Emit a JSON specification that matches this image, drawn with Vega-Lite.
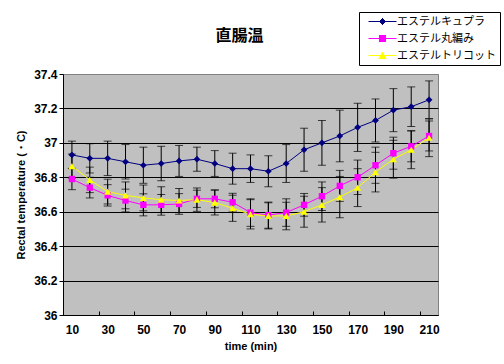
{
  "$schema": "https://vega.github.io/schema/vega-lite/v6.json",
  "width": 375,
  "height": 241,
  "autosize": "none",
  "padding": {"left": 63, "top": 74, "right": 66, "bottom": 49},
  "background": "white",
  "title": {"text": "直腸温", "font": "Noto Sans CJK JP", "fontSize": 16, "fontWeight": "bold", "color": "black", "anchor": "middle", "dx": -11, "offset": -32},
  "config": {
    "view": {"stroke": "#808080", "fill": "#C0C0C0", "strokeWidth": 1},
    "axis": {"labelFont": "Liberation Sans", "labelFontSize": 12, "labelFontWeight": "bold", "labelColor": "black", "titleFont": "Liberation Sans", "titleFontSize": 11, "titleFontWeight": "bold", "titleColor": "black", "domainColor": "black", "tickColor": "black"}
  },
  "data": {"values": [
    {"series": "エステルキュプラ", "t": 10, "mean": 36.93, "lo": 36.85, "hi": 37.01},
    {"series": "エステルキュプラ", "t": 20, "mean": 36.91, "lo": 36.825, "hi": 36.995},
    {"series": "エステルキュプラ", "t": 30, "mean": 36.91, "lo": 36.81, "hi": 37.01},
    {"series": "エステルキュプラ", "t": 40, "mean": 36.89, "lo": 36.79, "hi": 36.99},
    {"series": "エステルキュプラ", "t": 50, "mean": 36.87, "lo": 36.765, "hi": 36.975},
    {"series": "エステルキュプラ", "t": 60, "mean": 36.88, "lo": 36.78, "hi": 36.98},
    {"series": "エステルキュプラ", "t": 70, "mean": 36.895, "lo": 36.805, "hi": 36.985},
    {"series": "エステルキュプラ", "t": 80, "mean": 36.905, "lo": 36.835, "hi": 36.975},
    {"series": "エステルキュプラ", "t": 90, "mean": 36.88, "lo": 36.805, "hi": 36.955},
    {"series": "エステルキュプラ", "t": 100, "mean": 36.85, "lo": 36.76, "hi": 36.94},
    {"series": "エステルキュプラ", "t": 110, "mean": 36.85, "lo": 36.77, "hi": 36.93},
    {"series": "エステルキュプラ", "t": 120, "mean": 36.835, "lo": 36.745, "hi": 36.925},
    {"series": "エステルキュプラ", "t": 130, "mean": 36.88, "lo": 36.77, "hi": 36.99},
    {"series": "エステルキュプラ", "t": 140, "mean": 36.96, "lo": 36.835, "hi": 37.085},
    {"series": "エステルキュプラ", "t": 150, "mean": 37.0, "lo": 36.87, "hi": 37.13},
    {"series": "エステルキュプラ", "t": 160, "mean": 37.04, "lo": 36.89, "hi": 37.19},
    {"series": "エステルキュプラ", "t": 170, "mean": 37.09, "lo": 36.95, "hi": 37.23},
    {"series": "エステルキュプラ", "t": 180, "mean": 37.13, "lo": 37.005, "hi": 37.255},
    {"series": "エステルキュプラ", "t": 190, "mean": 37.19, "lo": 37.065, "hi": 37.315},
    {"series": "エステルキュプラ", "t": 200, "mean": 37.21, "lo": 37.095, "hi": 37.325},
    {"series": "エステルキュプラ", "t": 210, "mean": 37.25, "lo": 37.14, "hi": 37.36},
    {"series": "エステル丸編み", "t": 10, "mean": 36.79, "lo": 36.728, "hi": 36.852},
    {"series": "エステル丸編み", "t": 20, "mean": 36.74, "lo": 36.68, "hi": 36.8},
    {"series": "エステル丸編み", "t": 30, "mean": 36.695, "lo": 36.633, "hi": 36.757},
    {"series": "エステル丸編み", "t": 40, "mean": 36.665, "lo": 36.599, "hi": 36.731},
    {"series": "エステル丸編み", "t": 50, "mean": 36.64, "lo": 36.576, "hi": 36.704},
    {"series": "エステル丸編み", "t": 60, "mean": 36.64, "lo": 36.58, "hi": 36.7},
    {"series": "エステル丸編み", "t": 70, "mean": 36.645, "lo": 36.585, "hi": 36.705},
    {"series": "エステル丸編み", "t": 80, "mean": 36.675, "lo": 36.625, "hi": 36.725},
    {"series": "エステル丸編み", "t": 90, "mean": 36.675, "lo": 36.623, "hi": 36.727},
    {"series": "エステル丸編み", "t": 100, "mean": 36.655, "lo": 36.603, "hi": 36.707},
    {"series": "エステル丸編み", "t": 110, "mean": 36.595, "lo": 36.515, "hi": 36.675},
    {"series": "エステル丸編み", "t": 120, "mean": 36.58, "lo": 36.504, "hi": 36.656},
    {"series": "エステル丸編み", "t": 130, "mean": 36.595, "lo": 36.515, "hi": 36.675},
    {"series": "エステル丸編み", "t": 140, "mean": 36.64, "lo": 36.574, "hi": 36.706},
    {"series": "エステル丸編み", "t": 150, "mean": 36.69, "lo": 36.607, "hi": 36.773},
    {"series": "エステル丸編み", "t": 160, "mean": 36.75, "lo": 36.66, "hi": 36.84},
    {"series": "エステル丸編み", "t": 170, "mean": 36.8, "lo": 36.7, "hi": 36.9},
    {"series": "エステル丸編み", "t": 180, "mean": 36.87, "lo": 36.765, "hi": 36.975},
    {"series": "エステル丸編み", "t": 190, "mean": 36.94, "lo": 36.847, "hi": 37.033},
    {"series": "エステル丸編み", "t": 200, "mean": 36.98, "lo": 36.89, "hi": 37.07},
    {"series": "エステル丸編み", "t": 210, "mean": 37.04, "lo": 36.953, "hi": 37.127},
    {"series": "エステルトリコット", "t": 10, "mean": 36.865, "lo": 36.795, "hi": 36.935},
    {"series": "エステルトリコット", "t": 20, "mean": 36.785, "lo": 36.711, "hi": 36.859},
    {"series": "エステルトリコット", "t": 30, "mean": 36.717, "lo": 36.645, "hi": 36.789},
    {"series": "エステルトリコット", "t": 40, "mean": 36.695, "lo": 36.617, "hi": 36.773},
    {"series": "エステルトリコット", "t": 50, "mean": 36.68, "lo": 36.605, "hi": 36.755},
    {"series": "エステルトリコット", "t": 60, "mean": 36.67, "lo": 36.595, "hi": 36.745},
    {"series": "エステルトリコット", "t": 70, "mean": 36.665, "lo": 36.595, "hi": 36.735},
    {"series": "エステルトリコット", "t": 80, "mean": 36.67, "lo": 36.602, "hi": 36.738},
    {"series": "エステルトリコット", "t": 90, "mean": 36.653, "lo": 36.581, "hi": 36.725},
    {"series": "エステルトリコット", "t": 100, "mean": 36.62, "lo": 36.544, "hi": 36.696},
    {"series": "エステルトリコット", "t": 110, "mean": 36.585, "lo": 36.5, "hi": 36.67},
    {"series": "エステルトリコット", "t": 120, "mean": 36.576, "lo": 36.5, "hi": 36.652},
    {"series": "エステルトリコット", "t": 130, "mean": 36.575, "lo": 36.495, "hi": 36.655},
    {"series": "エステルトリコット", "t": 140, "mean": 36.6, "lo": 36.51, "hi": 36.69},
    {"series": "エステルトリコット", "t": 150, "mean": 36.64, "lo": 36.54, "hi": 36.74},
    {"series": "エステルトリコット", "t": 160, "mean": 36.685, "lo": 36.565, "hi": 36.805},
    {"series": "エステルトリコット", "t": 170, "mean": 36.74, "lo": 36.63, "hi": 36.85},
    {"series": "エステルトリコット", "t": 180, "mean": 36.83, "lo": 36.715, "hi": 36.945},
    {"series": "エステルトリコット", "t": 190, "mean": 36.905, "lo": 36.795, "hi": 37.015},
    {"series": "エステルトリコット", "t": 200, "mean": 36.96, "lo": 36.85, "hi": 37.07},
    {"series": "エステルトリコット", "t": 210, "mean": 37.03, "lo": 36.92, "hi": 37.14}
  ]},
  "encoding": {
    "x": {
      "field": "t", "type": "quantitative",
      "scale": {"domain": [5, 215], "nice": false, "zero": false},
      "axis": {"title": "time (min)", "values": [10, 30, 50, 70, 90, 110, 130, 150, 170, 190, 210], "tickCount": 40, "labelOverlap": false, "grid": false, "tickOffset": -8.93, "labelOffset": 8.93, "tickSize": -4, "labelPadding": 13, "titlePadding": 5}
    }
  },
  "layer": [
    {
      "mark": {"type": "rule", "color": "black", "strokeWidth": 1},
      "encoding": {
        "y": {
          "field": "lo", "type": "quantitative",
          "scale": {"domain": [36, 37.4], "nice": false, "zero": false},
          "axis": {"title": "Rectal temperature (・C)", "values": [36, 36.2, 36.4, 36.6, 36.8, 37, 37.2, 37.4], "tickCount": 40, "labelOverlap": false, "format": "~g", "grid": true, "gridColor": {"condition": {"test": "datum.value >= 37.39", "value": "#808080"}, "value": "black"}, "gridOpacity": 1, "gridWidth": 1, "tickSize": 4, "labelPadding": 2, "titlePadding": 7}
        },
        "y2": {"field": "hi"}
      }
    },
    {
      "mark": {"type": "tick", "orient": "horizontal", "color": "black", "size": 8, "thickness": 1},
      "encoding": {"y": {"field": "lo", "type": "quantitative"}}
    },
    {
      "mark": {"type": "tick", "orient": "horizontal", "color": "black", "size": 8, "thickness": 1},
      "encoding": {"y": {"field": "hi", "type": "quantitative"}}
    },
    {
      "transform": [{"filter": {"field": "series", "equal": "エステルキュプラ"}}],
      "mark": {"type": "line", "strokeWidth": 1, "color": "#000080"},
      "encoding": {"y": {"field": "mean", "type": "quantitative"}}
    },
    {
      "transform": [{"filter": {"field": "series", "equal": "エステル丸編み"}}],
      "mark": {"type": "line", "strokeWidth": 1, "color": "#FF00FF"},
      "encoding": {"y": {"field": "mean", "type": "quantitative"}}
    },
    {
      "transform": [{"filter": {"field": "series", "equal": "エステルトリコット"}}],
      "mark": {"type": "line", "strokeWidth": 1, "color": "#FFFF00"},
      "encoding": {"y": {"field": "mean", "type": "quantitative"}}
    },
    {
      "transform": [{"filter": {"field": "series", "equal": "エステルキュプラ"}}],
      "mark": {"type": "point", "filled": true, "opacity": 1, "size": 45, "shape": "diamond", "color": "#000080"},
      "encoding": {"y": {"field": "mean", "type": "quantitative"}}
    },
    {
      "transform": [{"filter": {"field": "series", "equal": "エステル丸編み"}}],
      "mark": {"type": "point", "filled": true, "opacity": 1, "size": 40, "shape": "square", "color": "#FF00FF"},
      "encoding": {"y": {"field": "mean", "type": "quantitative"}}
    },
    {
      "transform": [{"filter": {"field": "series", "equal": "エステルトリコット"}}],
      "mark": {"type": "point", "filled": true, "opacity": 1, "size": 50, "shape": "triangle-up", "color": "#FFFF00"},
      "encoding": {"y": {"field": "mean", "type": "quantitative"}}
    },
    {
      "mark": {"type": "point", "filled": false, "opacity": 0, "size": 4, "strokeWidth": 1},
      "encoding": {
        "y": {"field": "mean", "type": "quantitative"},
        "shape": {"field": "series", "type": "nominal", "scale": {"domain": ["エステルキュプラ", "エステル丸編み", "エステルトリコット"], "range": [
          "M0,0H28M13.5,-3H14.5M12.5,-2H15.5M11.5,-1H16.5M11.5,1H16.5M12.5,2H15.5M13.5,3H14.5",
          "M0,0H28M10.5,-3H17.5M10.5,-2H17.5M10.5,-1H17.5M10.5,1H17.5M10.5,2H17.5M10.5,3H17.5",
          "M0,0H28M13.4,-3H14.6M12.9,-2H15.1M12.3,-1H15.7M11.1,1H16.9M10.6,2H17.4M10,3H18"
        ]}},
        "color": {
          "field": "series", "type": "nominal",
          "scale": {"domain": ["エステルキュプラ", "エステル丸編み", "エステルトリコット"], "range": ["#000080", "#FF00FF", "#FFFF00"]},
          "legend": {
            "title": null, "orient": "none", "legendX": 296, "legendY": -62,
            "fillColor": "white", "strokeColor": "black", "padding": 4,
            "labelFont": "Noto Sans CJK JP", "labelFontSize": 11, "labelColor": "black", "labelOffset": 23,
            "symbolSize": 4, "symbolOpacity": 1, "rowPadding": 5, "symbolStrokeWidth": 1
          }
        }
      }
    }
  ]
}
